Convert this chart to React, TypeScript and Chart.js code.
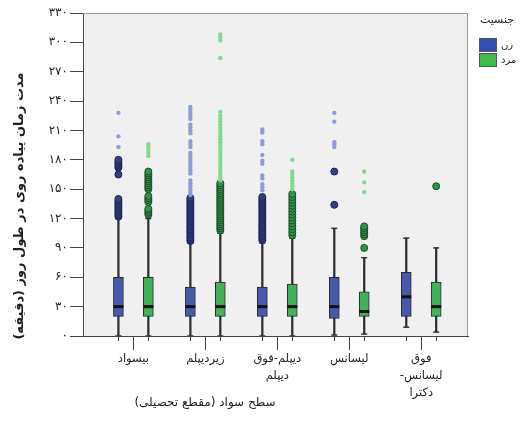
import React, { useEffect, useRef } from "react";
import { Chart, registerables } from "chart.js";

Chart.register(...registerables);

// ---------- data ----------
const categories: string[][] = [
  ["بیسواد"],
  ["زیردیپلم"],
  ["دیپلم-فوق", "دیپلم"],
  ["لیسانس"],
  ["فوق", "لیسانس-", "دکترا"],
];
const seriesNames = ["زن", "مرد"];
const legendTitle = "جنسیت";
const xTitle = "سطح سواد (مقطع تحصیلی)";
const yTitle = "مدت زمان پیاده روی در طول روز (دقیقه)";
const yTickValues = [0, 30, 60, 90, 120, 150, 180, 210, 240, 270, 300, 330];

// female (زن)
const femaleMin = [0, 0, 0, 1, 9];
const femaleQ1 = [20, 20, 20, 18, 20];
const femaleMedian = [30, 30, 30, 30, 40];
const femaleQ3 = [60, 50, 50, 60, 65];
const femaleMax = [120, 95, 95, 110, 100];
const femaleOutliers = [
  [122, 124, 126, 128, 130, 132, 134, 136, 138, 140, 165, 172, 174, 176, 178, 180],
  [97, 99, 101, 103, 105, 107, 109, 111, 113, 115, 117, 119, 121, 123, 125, 127, 129, 131, 133, 135, 137, 139, 141],
  [98, 100, 102, 104, 106, 108, 110, 112, 114, 116, 118, 120, 122, 124, 126, 128, 130, 132, 134, 136, 138, 140, 142],
  [134, 168],
  [],
];
const femaleExtremes = [
  [193, 204, 228],
  [144, 147, 150, 153, 156, 159, 166, 169, 172, 175, 178, 181, 184, 187, 193, 196, 199, 207, 210, 213, 216, 222, 225, 228, 231, 234],
  [149, 152, 155, 161, 164, 176, 179, 185, 196, 199, 208, 211],
  [193, 196, 198, 219, 228],
  [],
];

// male (مرد)
const maleMin = [0, 0, 0, 2, 4];
const maleQ1 = [20, 20, 20, 20, 20];
const maleMedian = [30, 30, 30, 25, 30];
const maleQ3 = [60, 55, 53, 45, 55];
const maleMax = [120, 105, 100, 80, 90];
const maleOutliers = [
  [124, 126, 128, 130, 137, 139, 141, 143, 150, 152, 154, 156, 158, 160, 162, 164, 166, 168],
  [108, 110, 112, 114, 116, 118, 120, 122, 124, 126, 128, 130, 132, 134, 136, 138, 140, 142, 144, 146, 148, 150, 152, 154, 156],
  [103, 106, 109, 112, 115, 118, 121, 124, 127, 130, 133, 136, 139, 142, 145],
  [90, 102, 104, 106, 108, 110, 112],
  [153],
];
const maleExtremes = [
  [184, 187, 190, 193, 196],
  [159, 162, 165, 168, 171, 174, 177, 180, 183, 186, 189, 192, 195, 198, 201, 204, 207, 210, 213, 216, 219, 222, 225, 229, 284, 302, 305, 308],
  [150, 153, 156, 159, 162, 165, 168, 180],
  [147, 157, 168],
  [],
];

// ---------- styling ----------
const FONT = "'DejaVu Sans', sans-serif";
const OFFSETS = [-0.208, 0.208];
const styles = [
  { box: "#4659aa", outFill: "#34408a", outBorder: "#1c2252", ext: "#8f9bdc", legend: "#3550b4" },
  { box: "#41b258", outFill: "#2f9447", outBorder: "#1b4d27", ext: "#85d890", legend: "#3cbc46" },
];

const seriesData = [
  { min: femaleMin, q1: femaleQ1, med: femaleMedian, q3: femaleQ3, max: femaleMax, out: femaleOutliers, ext: femaleExtremes },
  { min: maleMin, q1: maleQ1, med: maleMedian, q3: maleQ3, max: maleMax, out: maleOutliers, ext: maleExtremes },
];

const toFa = (n: number | string) => String(n).replace(/\d/g, (d) => "۰۱۲۳۴۵۶۷۸۹"[+d]);

function buildDatasets() {
  const ds: any[] = [];
  seriesData.forEach((s, si) => {
    const st = styles[si];
    const xAt = (i: number) => i + 1 + OFFSETS[si];
    ds.push({
      type: "bar",
      label: seriesNames[si] + "-whisker",
      data: categories.map((_, i) => ({ x: xAt(i), y: [s.min[i], s.max[i]] })),
      backgroundColor: "#2e2e2e",
      borderWidth: 0,
      barThickness: 1.6,
      maxBarThickness: 1.6,
      grouped: false,
      order: 6,
    });
    ds.push({
      type: "bar",
      label: seriesNames[si],
      data: categories.map((_, i) => ({ x: xAt(i), y: [s.q1[i], s.q3[i]] })),
      backgroundColor: st.box,
      borderColor: "#2a2a2a",
      borderWidth: 1,
      borderSkipped: false,
      barThickness: 10,
      maxBarThickness: 10,
      grouped: false,
      order: 5,
    });
    ds.push({
      type: "scatter",
      label: seriesNames[si] + "-caps",
      data: categories.flatMap((_, i) => [
        { x: xAt(i), y: s.min[i] },
        { x: xAt(i), y: s.max[i] },
      ]),
      pointStyle: "line",
      pointRadius: 3,
      borderColor: "#333333",
      borderWidth: 1.5,
      order: 4,
    });
    ds.push({
      type: "scatter",
      label: seriesNames[si] + "-median",
      data: categories.map((_, i) => ({ x: xAt(i), y: s.med[i] })),
      pointStyle: "line",
      pointRadius: 5,
      borderColor: "#111111",
      borderWidth: 3,
      order: 3,
    });
    ds.push({
      type: "scatter",
      label: seriesNames[si] + "-outliers",
      data: categories.flatMap((_, i) => s.out[i].map((v) => ({ x: xAt(i), y: v }))),
      pointStyle: "circle",
      pointRadius: 3.5,
      backgroundColor: st.outFill,
      borderColor: st.outBorder,
      borderWidth: 1,
      order: 2,
    });
    ds.push({
      type: "scatter",
      label: seriesNames[si] + "-extremes",
      data: categories.flatMap((_, i) => s.ext[i].map((v) => ({ x: xAt(i), y: v }))),
      pointStyle: "circle",
      pointRadius: 2.2,
      backgroundColor: st.ext,
      borderWidth: 0,
      order: 1,
    });
  });
  return ds;
}

const decorPlugin = {
  id: "decor",
  beforeDraw(chart: any) {
    const { ctx, chartArea: a } = chart;
    ctx.save();
    ctx.fillStyle = "#f0f0f0";
    ctx.fillRect(a.left, a.top, a.right - a.left, a.bottom - a.top);
    ctx.restore();
  },
  afterDraw(chart: any) {
    const { ctx, chartArea: a } = chart;
    const xs = chart.scales.x;
    ctx.save();
    // frame (top & right)
    ctx.strokeStyle = "#9a9a9a";
    ctx.lineWidth = 1;
    ctx.beginPath();
    ctx.moveTo(a.left, a.top + 0.5);
    ctx.lineTo(a.right - 0.5, a.top + 0.5);
    ctx.lineTo(a.right - 0.5, a.bottom);
    ctx.stroke();
    // minor ticks at each box position
    ctx.strokeStyle = "#444";
    ctx.beginPath();
    categories.forEach((_, i) => {
      OFFSETS.forEach((o) => {
        const px = Math.round(xs.getPixelForValue(i + 1 + o)) + 0.5;
        ctx.moveTo(px, a.bottom);
        ctx.lineTo(px, a.bottom + 5);
      });
    });
    ctx.stroke();
    // axis titles
    ctx.fillStyle = "#1e1e1e";
    ctx.direction = "rtl";
    ctx.textAlign = "center";
    ctx.textBaseline = "middle";
    ctx.font = "12px " + FONT;
    ctx.fillText(xTitle, a.left + 122, 403);
    ctx.save();
    ctx.translate(20, 206);
    ctx.rotate(-Math.PI / 2);
    ctx.font = "bold 13px " + FONT;
    ctx.fillText(yTitle, 0, 0);
    ctx.restore();
    // legend
    const lx = a.right + 11;
    ctx.font = "11px " + FONT;
    ctx.fillText(legendTitle, lx + 18, 20);
    ctx.textAlign = "left";
    ctx.direction = "ltr";
    seriesNames.forEach((name, si) => {
      const y = 38 + si * 15;
      ctx.fillStyle = styles[si].legend;
      ctx.fillRect(lx, y, 18, 14);
      ctx.strokeStyle = "#555";
      ctx.strokeRect(lx + 0.5, y + 0.5, 17, 13);
      ctx.fillStyle = "#222";
      ctx.font = "10px " + FONT;
      ctx.fillText(name, lx + 22, y + 7);
    });
    ctx.restore();
  },
};

export default function App() {
  const ref = useRef<HTMLCanvasElement>(null);
  useEffect(() => {
    if (!ref.current) return;
    const chart = new Chart(ref.current, {
      type: "bar",
      data: { datasets: buildDatasets() },
      options: {
        animation: false,
        responsive: true,
        maintainAspectRatio: false,
        devicePixelRatio: 1,
        events: [],
        layout: { padding: { top: 13, right: 52, bottom: 0, left: 0 } },
        plugins: { legend: { display: false }, tooltip: { enabled: false } },
        scales: {
          x: {
            type: "linear",
            min: 0.3,
            max: 5.65,
            offset: false,
            afterFit: (s: any) => {
              s.height = 94;
            },
            afterBuildTicks: (s: any) => {
              s.ticks = categories.map((_, i) => ({ value: i + 1 }));
            },
            grid: {
              offset: false,
              display: true,
              drawOnChartArea: false,
              drawTicks: true,
              tickLength: 14,
              color: "#444",
            },
            border: { display: true, color: "#444", width: 1 },
            ticks: {
              autoSkip: false,
              maxRotation: 0,
              padding: 1,
              color: "#1e1e1e",
              font: { family: FONT, size: 11.5, lineHeight: 1.45 },
              callback: (v: any) => categories[Math.round(v) - 1] ?? "",
            },
          },
          y: {
            type: "linear",
            min: 0,
            max: 330,
            afterFit: (s: any) => {
              s.width = 83;
            },
            afterBuildTicks: (s: any) => {
              s.ticks = yTickValues.map((v) => ({ value: v }));
            },
            grid: {
              display: true,
              drawOnChartArea: false,
              drawTicks: true,
              tickLength: 13,
              color: "#444",
            },
            border: { display: true, color: "#444", width: 1 },
            ticks: {
              padding: 2,
              color: "#1e1e1e",
              font: { family: FONT, size: 12 },
              callback: (v: any) => toFa(v),
            },
          },
        },
      } as any,
      plugins: [decorPlugin],
    });
    return () => chart.destroy();
  }, []);
  return (
    <div style={{ position: "fixed", left: 0, top: 0, width: 520, height: 430, background: "#fff" }}>
      <canvas ref={ref} dir="rtl" />
    </div>
  );
}
